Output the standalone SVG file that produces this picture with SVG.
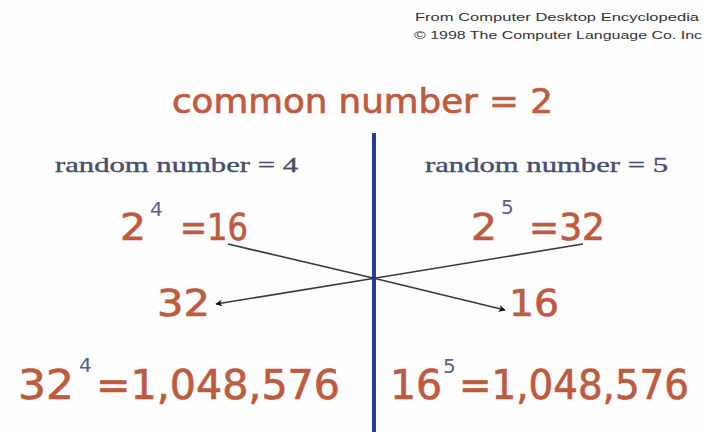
<svg xmlns="http://www.w3.org/2000/svg" width="707" height="432" viewBox="0 0 707 432">
<defs>
<style>
.o{fill:#c05a3e;stroke:#c05a3e;stroke-width:0.7;font-family:"DejaVu Sans","Liberation Sans",sans-serif;}
.s{fill:#56608a;font-family:"DejaVu Sans","Liberation Sans",sans-serif;font-size:20px;}
.r{fill:#454f6e;stroke:#454f6e;stroke-width:0.4;font-family:"Liberation Serif","DejaVu Serif",serif;font-size:22px;}
.c{fill:#333;font-family:"Liberation Sans",Arial,sans-serif;font-size:11.5px;}
.ln{stroke:#333a40;stroke-width:1.6;fill:none;}
</style>
<marker id="ah" viewBox="0 0 10 10" refX="9" refY="5" markerWidth="7" markerHeight="7" orient="auto" markerUnits="userSpaceOnUse">
<path d="M0,0 L10,5 L0,10 L3,5 Z" fill="#111"/>
</marker>
</defs>
<rect width="707" height="432" fill="#fdfdfd"/>
<g id="credit">
<text class="c" x="415" y="21" textLength="284" lengthAdjust="spacingAndGlyphs">From Computer Desktop Encyclopedia</text>
<text class="c" x="414" y="39" textLength="288" lengthAdjust="spacingAndGlyphs">© 1998 The Computer Language Co. Inc</text>
</g>
<g id="title">
<text class="o" x="172" y="113" font-size="34" textLength="381" lengthAdjust="spacingAndGlyphs">common number = 2</text>
</g>
<g id="divider">
<line x1="374" y1="133" x2="374" y2="432" stroke="#2a3c9e" stroke-width="4"/>
</g>
<g id="left-random">
<text class="r" x="55" y="172" textLength="243" lengthAdjust="spacingAndGlyphs">random number = 4</text>
</g>
<g id="right-random">
<text class="r" x="425" y="172" textLength="243" lengthAdjust="spacingAndGlyphs">random number = 5</text>
</g>
<g id="left-power">
<text class="o" x="120" y="240" font-size="38" textLength="26" lengthAdjust="spacingAndGlyphs">2</text>
<text class="s" x="150" y="216">4</text>
<text class="o" x="180" y="240" font-size="38" textLength="68" lengthAdjust="spacingAndGlyphs">=16</text>
</g>
<g id="right-power">
<text class="o" x="471" y="240" font-size="38" textLength="26" lengthAdjust="spacingAndGlyphs">2</text>
<text class="s" x="501" y="214">5</text>
<text class="o" x="529" y="240" font-size="38" textLength="76" lengthAdjust="spacingAndGlyphs">=32</text>
</g>
<g id="left-received">
<text class="o" x="157" y="316" font-size="38" textLength="53" lengthAdjust="spacingAndGlyphs">32</text>
</g>
<g id="right-received">
<text class="o" x="509" y="316" font-size="38" textLength="50" lengthAdjust="spacingAndGlyphs">16</text>
</g>
<g id="connectors">
<path class="ln" d="M228,244 L373,278 L505,310" marker-end="url(#ah)"/>
<path class="ln" d="M583,244 L376,278 L216,304" marker-end="url(#ah)"/>
</g>
<g id="left-result">
<text class="o" x="18" y="399" font-size="41" textLength="56" lengthAdjust="spacingAndGlyphs">32</text>
<text class="s" x="79" y="372">4</text>
<text class="o" x="96" y="399" font-size="41" textLength="244" lengthAdjust="spacingAndGlyphs">=1,048,576</text>
</g>
<g id="right-result">
<text class="o" x="390" y="399" font-size="41" textLength="52" lengthAdjust="spacingAndGlyphs">16</text>
<text class="s" x="443" y="373">5</text>
<text class="o" x="459" y="399" font-size="41" textLength="230" lengthAdjust="spacingAndGlyphs">=1,048,576</text>
</g>
</svg>
